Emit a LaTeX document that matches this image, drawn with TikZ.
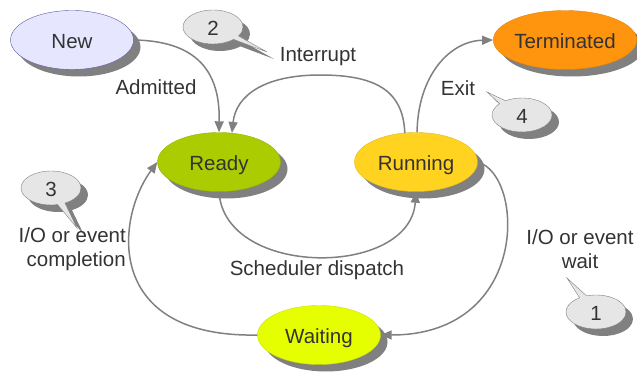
\documentclass[tikz,border=0pt]{standalone}
\usepackage{fontspec}
\setmainfont{Liberation Sans}
\usetikzlibrary{shapes.geometric,shapes.callouts,shadows,arrows.meta}
\definecolor{txt}{HTML}{333333}
\definecolor{shade}{HTML}{808080}
\definecolor{wire}{HTML}{808080}
\definecolor{cnew}{HTML}{E6E6FF}
\definecolor{cready}{HTML}{AACC00}
\definecolor{crun}{HTML}{FFD320}
\definecolor{cterm}{HTML}{FF950E}
\definecolor{cwait}{HTML}{E6FF00}
\definecolor{cbub}{HTML}{E6E6E6}
\begin{document}
\begin{tikzpicture}[x=1pt,y=-1pt,
  procstate/.style={ellipse, minimum width=123pt, minimum height=59pt, inner sep=0pt,
    draw=#1!88!black, line width=0.4pt, fill=#1, text=txt,
    text height=17.6pt, text depth=0pt,
    font=\fontsize{20.5}{24}\selectfont,
    drop shadow={shadow xshift=7pt, shadow yshift=-7pt, fill=shade, opacity=1}},
  bubble/.style={ellipse callout, minimum width=60pt, minimum height=34pt, inner sep=0pt,
    draw=gray, line width=0.4pt, fill=cbub, text=txt, callout absolute pointer={#1},
    text height=16.2pt, text depth=0pt,
    font=\fontsize{20.5}{24}\selectfont,
    drop shadow={shadow xshift=7pt, shadow yshift=-7pt, fill=shade, opacity=1}},
  lbl/.style={text=txt, inner sep=0pt, font=\fontsize{20.5}{24}\selectfont},
  conn/.style={draw=wire, line width=1.5pt, -{Triangle[length=11pt,width=9pt]}}]
\useasboundingbox (0,0) rectangle (637,377);

% states
\node[procstate=cnew, draw=gray!70!blue] (new) at (72,40) {New};
\node[procstate=cready] (ready) at (219,162) {Ready};
\node[procstate=crun] (run) at (416,162) {Running};
\node[procstate=cterm] (term) at (565,40) {Terminated};
\node[procstate=cwait] (wait) at (319,335) {Waiting};

% callouts
\node[bubble={(267,52)}] (b2) at (213,27) {2};
\node[bubble={(487,92)}] (b4) at (522,115) {4};
\node[bubble={(77,228)}] (b3) at (51,188) {3};
\node[bubble={(567,278)}] (b1) at (596,312) {1};

% connectors
\draw[conn] (new.east) .. controls (205,41) and (220,80) .. (ready.north);
\draw[conn] (run.111) .. controls (403,90) and (375,75) .. (320,75)
   .. controls (265,75) and (236,95) .. (ready.66);
\draw[conn] (run.88) .. controls (418,75) and (450,41) .. (term.west);
\draw[conn] (ready.south) .. controls (224,278) and (410,278) .. (run.south);
\draw[conn] (run.east) .. controls (525,175) and (530,335) .. (wait.east);
\draw[conn] (wait.west) .. controls (105,338) and (115,220) .. (ready.west);

% labels
\node[lbl] (ladm) at (156,87) {Admitted};
\node[lbl] (lint) at (318,57) {Interrupt};
\node[lbl] (lexit) at (458,88) {Exit};
\node[lbl, align=right, anchor=east] (lcomp) at (126,249) {I/O or event\\completion};
\node[lbl] (lsched) at (317,270) {Scheduler dispatch};
\node[lbl, align=center] (lwait) at (580,249) {I/O or event\\wait};
\end{tikzpicture}
\end{document}
